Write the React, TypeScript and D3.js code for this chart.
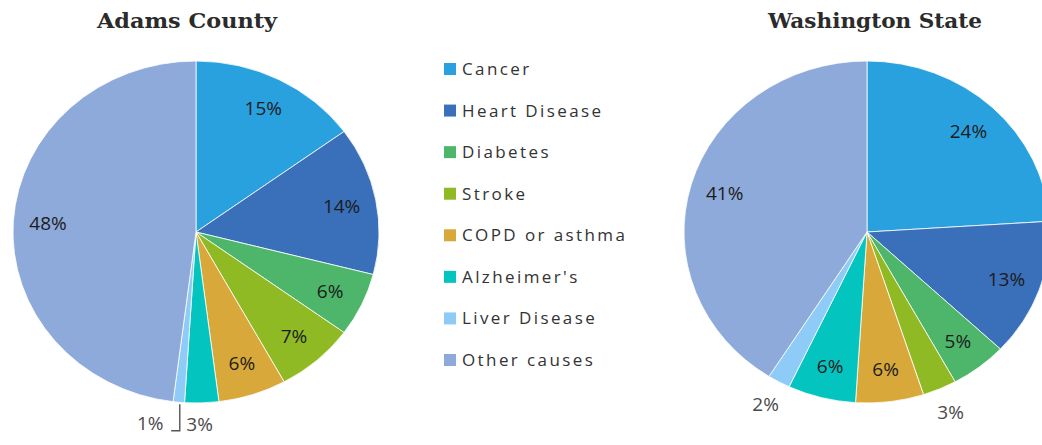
import React, { useEffect, useRef } from 'react';
import * as d3 from 'd3';

// Causes of death, shared by both pies and the legend
const causes = [
    'Cancer',
    'Heart Disease',
    'Diabetes',
    'Stroke',
    'COPD or asthma',
    "Alzheimer's",
    'Liver Disease',
    'Other causes'
];
const causeColors = ['#2aa1df', '#3a6fba', '#4db66a', '#8fba24', '#d9a83a', '#04c4c0', '#8ecbf7', '#8eaadb'];

const adamsValues = [15, 14, 6, 7, 6, 3, 1, 48];
const washingtonValues = [24, 13, 5, 3, 6, 6, 2, 41];

// small hand nudges for outside labels (x shift in px), like the original's dragged labels
const adamsLabelNudge = [0, 0, 0, 0, 0, -3, -26, 0];
const washingtonLabelNudge = [0, 0, 0, 0, 0, 0, 0, 0];

const W = 1042;
const H = 445;

const App = () => {
    const svgRef = useRef<SVGSVGElement>(null);

    useEffect(() => {
        const svg = d3.select(svgRef.current);
        svg.selectAll('*').remove();

        const color = d3.scaleOrdinal<string, string>().domain(causes).range(causeColors);

        const pies = [
            { title: 'Adams County', values: adamsValues, nudge: adamsLabelNudge, cx: 196, cy: 232, titleX: 187, titleW: 180, leader: true },
            { title: 'Washington State', values: washingtonValues, nudge: washingtonLabelNudge, cx: 867, cy: 232, titleX: 875, titleW: 214, leader: false }
        ];

        // the original is stretched a little horizontally
        const R = 171;
        const rx = 183;
        const sx = rx / R;

        const pie = d3.pie<number>().sort(null).value((d) => d);
        const arc = d3.arc<d3.PieArcDatum<number>>().innerRadius(0).outerRadius(R);

        pies.forEach((p) => {
            const g = svg.append('g').attr('transform', `translate(${p.cx},${p.cy})`);
            const arcs = pie(p.values);

            g.append('g')
                .attr('transform', `scale(${sx},1)`)
                .selectAll('path')
                .data(arcs)
                .enter()
                .append('path')
                .attr('d', arc)
                .attr('fill', (d, i) => color(causes[i]))
                .attr('stroke', '#ffffff')
                .attr('stroke-width', 0.8)
                .attr('vector-effect', 'non-scaling-stroke');

            const pos = (d: d3.PieArcDatum<number>, k: number) => {
                const a = (d.startAngle + d.endAngle) / 2;
                return [Math.sin(a) * k * R * sx, -Math.cos(a) * k * R];
            };

            arcs.forEach((d, i) => {
                const outside = d.data <= 3;
                const [lx0, ly0] = pos(d, outside ? 1.15 : 0.81);
                const lx = lx0 + p.nudge[i];
                const ly = ly0 - (p.leader && outside ? 4 : 0);
                g.append('text')
                    .attr('x', lx)
                    .attr('y', ly)
                    .attr('dy', '0.35em')
                    .attr('text-anchor', 'middle')
                    .style('font-family', '"Open Sans", sans-serif')
                    .style('font-size', '19px')
                    .style('fill', outside ? '#4a4a4a' : '#1c1c1c')
                    .text(`${d.data}%`);

                if (outside && p.leader && p.nudge[i] < -10) {
                    const [ex, ey] = pos(d, 1.0);
                    g.append('path')
                        .attr('d', `M${ex + 1},${ey + 2}V${ly + 7}H${lx + 21}`)
                        .attr('fill', 'none')
                        .attr('stroke', '#555')
                        .attr('stroke-width', 1.4);
                }
            });

            svg.append('text')
                .attr('x', p.titleX)
                .attr('y', 28)
                .attr('text-anchor', 'middle')
                .attr('textLength', p.titleW)
                .attr('lengthAdjust', 'spacingAndGlyphs')
                .style('font-family', '"DejaVu Serif", serif')
                .style('font-weight', 'bold')
                .style('font-size', '21px')
                .style('fill', '#2b2b2b')
                .text(p.title);
        });

        // legend
        const y = d3.scalePoint<string>().domain(causes).range([69, 360]);
        const legend = svg.append('g');
        const item = legend
            .selectAll('g')
            .data(causes)
            .enter()
            .append('g')
            .attr('transform', (d) => `translate(444,${y(d)})`);

        item.append('rect')
            .attr('x', 0)
            .attr('y', -6)
            .attr('width', 12)
            .attr('height', 12)
            .attr('fill', (d) => color(d));

        item.append('text')
            .attr('x', 18)
            .attr('y', 0)
            .attr('dy', '0.35em')
            .style('font-family', '"Open Sans", sans-serif')
            .style('font-size', '17px')
            .style('letter-spacing', '2.4px')
            .style('fill', '#333')
            .text((d) => d);
    }, []);

    return (
        <div style={{ position: 'absolute', left: 0, top: 0 }}>
            <svg ref={svgRef} width={W} height={H} style={{ display: 'block', background: '#fff' }}></svg>
        </div>
    );
};

export default App;
